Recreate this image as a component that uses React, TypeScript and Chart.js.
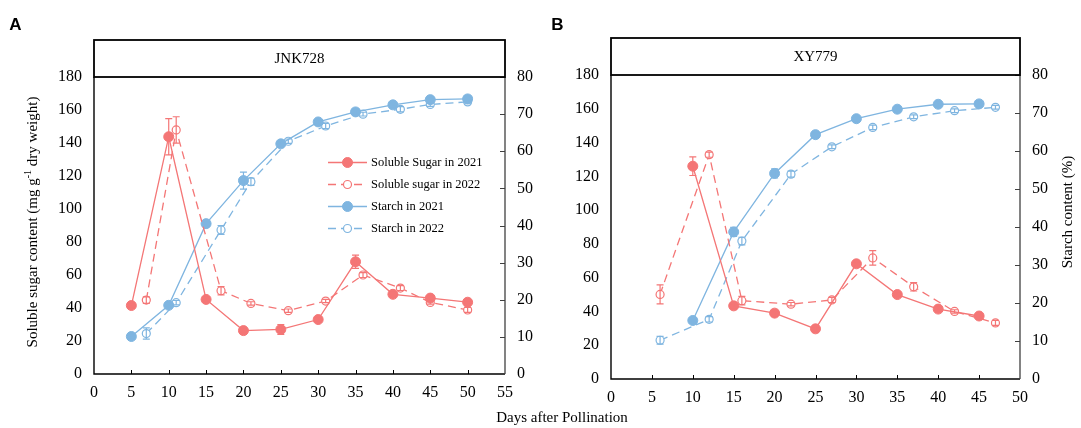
import React, { useEffect, useRef } from "react";
import { Chart, registerables } from "chart.js";

Chart.register(...registerables);

const RED = "#F47676";
const BLUE = "#7FB5E0";
const SERIF = "'Liberation Serif', 'Times New Roman', serif";

// ---------------- Data: JNK728 ----------------
const JNK_SUGAR21_DAYS = [5, 10, 15, 20, 25, 30, 35, 40, 45, 50];
const JNK_SUGAR21 = [41.5, 143.8, 45.2, 26.3, 27.0, 33.0, 68.0, 48.3, 46.0, 43.5];
const JNK_SUGAR21_ERR = [1, 11, 1.5, 1, 3, 1, 4, 1.5, 1, 1];

const JNK_SUGAR22_DAYS = [7, 11, 17, 21, 26, 31, 36, 41, 45, 50];
const JNK_SUGAR22 = [44.8, 147.9, 50.5, 42.8, 38.4, 44.2, 60.0, 52.1, 43.4, 38.8];
const JNK_SUGAR22_ERR = [2, 8, 2.5, 1, 1, 1, 1.5, 1.5, 1, 1.5];

const JNK_STARCH21_DAYS = [5, 10, 15, 20, 25, 30, 35, 40, 45, 50];
const JNK_STARCH21 = [10.1, 18.5, 40.5, 52.1, 62.0, 67.9, 70.6, 72.5, 73.9, 74.1];
const JNK_STARCH21_ERR = [0.3, 0.5, 0.5, 2.3, 0.5, 0.5, 0.5, 0.5, 0.5, 0.5];

const JNK_STARCH22_DAYS = [7, 11, 17, 21, 26, 31, 36, 41, 45, 50];
const JNK_STARCH22 = [10.9, 19.2, 38.8, 51.8, 62.7, 66.8, 70.0, 71.3, 72.6, 73.3];
const JNK_STARCH22_ERR = [1.5, 0.6, 1.2, 1.0, 0.6, 0.7, 0.5, 0.7, 0.5, 0.5];

// ---------------- Data: XY779 ----------------
const XY_SUGAR21_DAYS = [10, 15, 20, 25, 30, 35, 40, 45];
const XY_SUGAR21 = [126.0, 43.3, 39.0, 29.7, 68.2, 50.0, 41.4, 37.3];
const XY_SUGAR21_ERR = [5.5, 1, 1.5, 1, 1, 1, 1, 1.5];

const XY_SUGAR22_DAYS = [6, 12, 16, 22, 27, 32, 37, 42, 47];
const XY_SUGAR22 = [50.1, 132.8, 46.4, 44.3, 46.8, 71.7, 54.6, 40.0, 33.2];
const XY_SUGAR22_ERR = [5.6, 1.5, 2.5, 1, 1.5, 4.3, 2.5, 1, 1.5];

const XY_STARCH21_DAYS = [10, 15, 20, 25, 30, 35, 40, 45];
const XY_STARCH21 = [15.4, 38.7, 54.1, 64.3, 68.5, 71.0, 72.3, 72.4];
const XY_STARCH21_ERR = [0.5, 1.2, 1.2, 0.5, 0.5, 0.5, 0.5, 0.5];

const XY_STARCH22_DAYS = [6, 12, 16, 22, 27, 32, 37, 42, 47];
const XY_STARCH22 = [10.2, 15.7, 36.3, 53.9, 61.1, 66.2, 69.0, 70.6, 71.5];
const XY_STARCH22_ERR = [1.0, 0.7, 1.0, 0.8, 0.5, 0.6, 0.5, 0.5, 0.5];

// ---------------- Labels / ticks ----------------
const SERIES_LABELS = ["Soluble Sugar in 2021", "Soluble sugar in 2022", "Starch in 2021", "Starch in 2022"];
const PANEL_TITLES = ["JNK728", "XY779"];
const PANEL_LETTERS = ["A", "B"];
const X_MAX = [55, 50];
const X_STEP = 5;
const SUGAR_MAX = 180;
const SUGAR_STEP = 20;
const STARCH_MAX = 80;
const STARCH_STEP = 10;
const X_TITLE = "Days after Pollination";
const Y_TITLE_PARTS = ["Soluble sugar content (mg g", "-1", " dry weight)"];
const Y2_TITLE = "Starch content (%)";

type Series = {
  label: string;
  days: number[];
  values: number[];
  errors: number[];
  axis: "y" | "y2";
  color: string;
  filled: boolean;
  dashed: boolean;
};

type Panel = {
  title: string;
  letter: string;
  letterX: number;
  xMax: number;
  area: { left: number; right: number; top: number; bottom: number };
  boxTop: number;
  yWidth: number;
  y2Width: number;
  series: Series[];
  legend: boolean;
  extraText: boolean;
  y2Title: boolean;
};

const mkSeries = (
  i: number,
  days: number[],
  values: number[],
  errors: number[]
): Series => ({
  label: SERIES_LABELS[i],
  days,
  values,
  errors,
  axis: i < 2 ? "y" : "y2",
  color: i < 2 ? RED : BLUE,
  filled: i % 2 === 0,
  dashed: i % 2 === 1,
});

const PANELS: Panel[] = [
  {
    title: PANEL_TITLES[0],
    letter: PANEL_LETTERS[0],
    letterX: 15.5,
    xMax: X_MAX[0],
    area: { left: 94, right: 505, top: 77, bottom: 374 },
    boxTop: 40,
    yWidth: 94,
    y2Width: 35,
    series: [
      mkSeries(0, JNK_SUGAR21_DAYS, JNK_SUGAR21, JNK_SUGAR21_ERR),
      mkSeries(1, JNK_SUGAR22_DAYS, JNK_SUGAR22, JNK_SUGAR22_ERR),
      mkSeries(2, JNK_STARCH21_DAYS, JNK_STARCH21, JNK_STARCH21_ERR),
      mkSeries(3, JNK_STARCH22_DAYS, JNK_STARCH22, JNK_STARCH22_ERR),
    ],
    legend: true,
    extraText: true,
    y2Title: false,
  },
  {
    title: PANEL_TITLES[1],
    letter: PANEL_LETTERS[1],
    letterX: 557.5,
    xMax: X_MAX[1],
    area: { left: 611, right: 1020, top: 75, bottom: 379 },
    boxTop: 38,
    yWidth: 60,
    y2Width: 40,
    series: [
      mkSeries(0, XY_SUGAR21_DAYS, XY_SUGAR21, XY_SUGAR21_ERR),
      mkSeries(1, XY_SUGAR22_DAYS, XY_SUGAR22, XY_SUGAR22_ERR),
      mkSeries(2, XY_STARCH21_DAYS, XY_STARCH21, XY_STARCH21_ERR),
      mkSeries(3, XY_STARCH22_DAYS, XY_STARCH22, XY_STARCH22_ERR),
    ],
    legend: false,
    extraText: false,
    y2Title: true,
  },
];

const W = 1081;
const H = 428;
const DASH = [8, 5];

function drawMarker(ctx: CanvasRenderingContext2D, x: number, y: number, s: Series) {
  ctx.save();
  ctx.setLineDash([]);
  ctx.beginPath();
  ctx.arc(x, y, s.filled ? 5 : 4, 0, Math.PI * 2);
  ctx.fillStyle = s.filled ? s.color : "#ffffff";
  ctx.fill();
  ctx.lineWidth = s.filled ? 1 : 1.2;
  ctx.strokeStyle = s.color;
  ctx.stroke();
  ctx.restore();
}

function makePlugin(p: Panel) {
  return {
    id: "panelDecor",
    afterDatasetsDraw(chart: any) {
      const ctx: CanvasRenderingContext2D = chart.ctx;
      ctx.save();
      p.series.forEach((s, di) => {
        const meta = chart.getDatasetMeta(di);
        const ys = chart.scales[s.axis];
        ctx.strokeStyle = s.color;
        ctx.lineWidth = 1.2;
        ctx.setLineDash([]);
        s.values.forEach((v, j) => {
          const e = s.errors[j];
          const pt = meta.data[j];
          if (!pt || !e) return;
          const x = pt.x;
          const yt = ys.getPixelForValue(v + e);
          const yb = ys.getPixelForValue(v - e);
          ctx.beginPath();
          ctx.moveTo(x, yt);
          ctx.lineTo(x, yb);
          ctx.moveTo(x - 3.5, yt);
          ctx.lineTo(x + 3.5, yt);
          ctx.moveTo(x - 3.5, yb);
          ctx.lineTo(x + 3.5, yb);
          ctx.stroke();
        });
      });
      ctx.restore();
    },
    afterDraw(chart: any) {
      const ctx: CanvasRenderingContext2D = chart.ctx;
      const { left, right, top, bottom } = chart.chartArea;
      ctx.save();
      ctx.setLineDash([]);

      // axis lines
      ctx.strokeStyle = "#000";
      ctx.lineWidth = 1.4;
      ctx.beginPath();
      ctx.moveTo(left, top);
      ctx.lineTo(left, bottom);
      ctx.lineTo(right, bottom);
      ctx.stroke();
      ctx.strokeStyle = "#404040";
      ctx.lineWidth = 1.3;
      ctx.beginPath();
      ctx.moveTo(right, top);
      ctx.lineTo(right, bottom);
      ctx.stroke();

      // inward ticks on x
      const xs = chart.scales.x;
      ctx.strokeStyle = "#000";
      ctx.lineWidth = 1;
      for (let v = X_STEP; v < p.xMax; v += X_STEP) {
        const x = Math.round(xs.getPixelForValue(v)) + 0.5;
        ctx.beginPath();
        ctx.moveTo(x, bottom);
        ctx.lineTo(x, bottom - 4);
        ctx.stroke();
      }
      // inward ticks on y2
      const y2 = chart.scales.y2;
      ctx.strokeStyle = "#404040";
      for (let v = STARCH_STEP; v <= STARCH_MAX; v += STARCH_STEP) {
        const y = Math.round(y2.getPixelForValue(v)) + 0.5;
        ctx.beginPath();
        ctx.moveTo(right, y);
        ctx.lineTo(right - 5, y);
        ctx.stroke();
      }

      // title box
      ctx.strokeStyle = "#000";
      ctx.lineWidth = 1.8;
      ctx.strokeRect(left, p.boxTop, right - left, top - p.boxTop);
      ctx.fillStyle = "#000";
      ctx.font = `15px ${SERIF}`;
      ctx.textAlign = "center";
      ctx.textBaseline = "middle";
      ctx.fillText(p.title, (left + right) / 2, (p.boxTop + top) / 2 + 1);

      // panel letter
      ctx.font = `bold 17px 'Liberation Sans', Arial, sans-serif`;
      ctx.fillText(p.letter, p.letterX, 25);

      // legend
      if (p.legend) {
        ctx.font = `12.5px ${SERIF}`;
        p.series.forEach((s, i) => {
          const y = 162.5 + i * 22;
          ctx.strokeStyle = s.color;
          ctx.lineWidth = 1.3;
          ctx.setLineDash(s.dashed ? DASH : []);
          ctx.beginPath();
          ctx.moveTo(328, y);
          ctx.lineTo(367, y);
          ctx.stroke();
          ctx.setLineDash([]);
          drawMarker(ctx, 347.5, y, s);
          ctx.fillStyle = "#000";
          ctx.textAlign = "left";
          ctx.textBaseline = "middle";
          ctx.fillText(s.label, 371, y + 0.5);
        });
      }

      if (p.extraText) {
        // x title
        ctx.fillStyle = "#000";
        ctx.font = `15px ${SERIF}`;
        ctx.textAlign = "center";
        ctx.textBaseline = "middle";
        ctx.fillText(X_TITLE, 562, 418);

        // y title with superscript
        ctx.save();
        ctx.translate(33, 222);
        ctx.rotate(-Math.PI / 2);
        const mainFont = `15px ${SERIF}`;
        const supFont = `10px ${SERIF}`;
        ctx.font = mainFont;
        const w1 = ctx.measureText(Y_TITLE_PARTS[0]).width;
        const w3 = ctx.measureText(Y_TITLE_PARTS[2]).width;
        ctx.font = supFont;
        const w2 = ctx.measureText(Y_TITLE_PARTS[1]).width;
        let x0 = -(w1 + w2 + w3) / 2;
        ctx.textAlign = "left";
        ctx.textBaseline = "middle";
        ctx.font = mainFont;
        ctx.fillText(Y_TITLE_PARTS[0], x0, 0);
        x0 += w1;
        ctx.font = supFont;
        ctx.fillText(Y_TITLE_PARTS[1], x0, -5);
        x0 += w2;
        ctx.font = mainFont;
        ctx.fillText(Y_TITLE_PARTS[2], x0, 0);
        ctx.restore();
      }

      if (p.y2Title) {
        ctx.save();
        ctx.translate(1068, 212);
        ctx.rotate(-Math.PI / 2);
        ctx.fillStyle = "#000";
        ctx.font = `15px ${SERIF}`;
        ctx.textAlign = "center";
        ctx.textBaseline = "middle";
        ctx.fillText(Y2_TITLE, 0, 0);
        ctx.restore();
      }

      ctx.restore();
    },
  };
}

function buildChart(canvas: HTMLCanvasElement, p: Panel) {
  const tickFont = { family: SERIF, size: 16 };
  const datasets = p.series.map((s) => ({
    label: s.label,
    data: s.days.map((d, i) => ({ x: d, y: s.values[i] })),
    yAxisID: s.axis,
    borderColor: s.color,
    backgroundColor: s.color,
    borderWidth: 1.3,
    borderDash: s.dashed ? DASH : [],
    pointStyle: "circle",
    pointRadius: s.filled ? 5 : 4,
    pointHoverRadius: s.filled ? 5 : 4,
    pointBackgroundColor: s.filled ? s.color : "#ffffff",
    pointBorderColor: s.color,
    pointBorderWidth: s.filled ? 1 : 1.2,
    tension: 0,
    fill: false,
    clip: false as any,
  }));

  return new Chart(canvas, {
    type: "line",
    data: { datasets } as any,
    options: {
      animation: false,
      responsive: false,
      devicePixelRatio: 1,
      events: [],
      layout: {
        padding: {
          left: p.area.left - p.yWidth,
          right: W - p.area.right - p.y2Width,
          top: p.area.top,
          bottom: 0,
        },
      },
      plugins: {
        legend: { display: false },
        tooltip: { enabled: false },
        title: { display: false },
      },
      scales: {
        x: {
          type: "linear",
          position: "bottom",
          min: 0,
          max: p.xMax,
          grid: { display: false, drawTicks: false },
          border: { display: false },
          ticks: {
            stepSize: X_STEP,
            autoSkip: false,
            maxRotation: 0,
            color: "#000",
            font: tickFont,
            padding: 9,
          },
          afterFit: (s: any) => {
            s.height = H - p.area.bottom;
          },
        },
        y: {
          type: "linear",
          position: "left",
          min: 0,
          max: SUGAR_MAX,
          grid: { display: false, drawTicks: false },
          border: { display: false },
          ticks: { stepSize: SUGAR_STEP, color: "#000", font: tickFont, padding: 12 },
          afterFit: (s: any) => {
            s.width = p.yWidth;
          },
        },
        y2: {
          type: "linear",
          position: "right",
          min: 0,
          max: STARCH_MAX,
          grid: { display: false, drawTicks: false },
          border: { display: false },
          ticks: { stepSize: STARCH_STEP, color: "#000", font: tickFont, padding: 12 },
          afterFit: (s: any) => {
            s.width = p.y2Width;
          },
        },
      } as any,
    },
    plugins: [makePlugin(p) as any],
  });
}

function PanelCanvas({ panel }: { panel: Panel }) {
  const ref = useRef<HTMLCanvasElement | null>(null);
  useEffect(() => {
    if (!ref.current) return;
    const chart = buildChart(ref.current, panel);
    return () => chart.destroy();
  }, [panel]);
  return (
    <canvas
      ref={ref}
      width={W}
      height={H}
      style={{ position: "absolute", left: 0, top: 0, width: W, height: H }}
    />
  );
}

export default function App() {
  return (
    <div
      style={{
        position: "fixed",
        left: 0,
        top: 0,
        width: W,
        height: H,
        background: "#fff",
        overflow: "hidden",
      }}
    >
      {PANELS.map((p, i) => (
        <PanelCanvas key={i} panel={p} />
      ))}
    </div>
  );
}
